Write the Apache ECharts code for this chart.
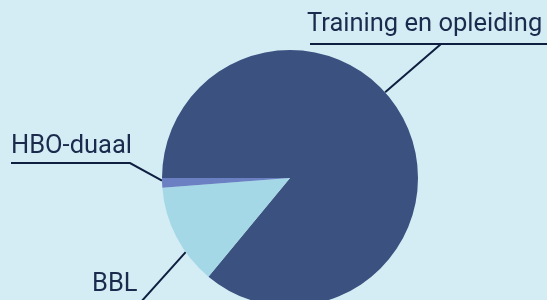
<!DOCTYPE html>
<html>
<head>
<meta charset="utf-8">
<script src="https://cdn.jsdelivr.net/npm/echarts@6/dist/echarts.min.js"></script>
<style>
html, body { margin: 0; padding: 0; background: #d4edf4; }
#chart { width: 547px; height: 300px; }
</style>
</head>
<body>
<div id="chart"></div>
<script>
const categories = ['Training en opleiding', 'BBL', 'HBO-duaal']
const shares = [86, 12.8, 1.2]
const colors = ['#3b5180', '#a5d8e6', '#6a80c2']

// pie placement
const cx = 290
const cy = 178
const r = 128

// where each leader line leaves the pie (deg, counter-clockwise from 3 o'clock)
// and where its text + underline sit
const labelAngles = [42, 215.4, 181.2]
const labelSpots = [
  { x: 307, y: 25, elbow: [441, 44], line: [310, 547] },
  { x: 92, y: 285, elbow: [140, 303], line: [90, 140] },
  { x: 11, y: 147, elbow: [130, 163], line: [11, 130] }
]

const chart = echarts.init(document.getElementById('chart'))
chart.setOption({
  backgroundColor: '#d4edf4',
  animation: false,
  series: [
    {
      type: 'pie',
      center: [cx, cy],
      radius: r,
      startAngle: 180,
      clockwise: true,
      avoidLabelOverlap: false,
      data: categories.map(function (name, i) {
        return { name: name, value: shares[i], itemStyle: { color: colors[i] } }
      }),
      label: {
        show: true,
        formatter: '{b}',
        color: '#1b2b4d',
        fontFamily: 'Roboto',
        fontSize: 25.5
      },
      labelLine: {
        show: true,
        lineStyle: { color: '#0e1f40', width: 2 }
      },
      labelLayout: function (params) {
        const i = params.dataIndex
        const s = labelSpots[i]
        const a = labelAngles[i] * Math.PI / 180
        const p0 = [cx + r * Math.cos(a), cy - r * Math.sin(a)]
        const y = s.elbow[1]
        return {
          x: s.x,
          y: s.y,
          align: 'left',
          verticalAlign: 'middle',
          labelLinePoints: [p0, s.elbow, [s.line[1], y], [s.line[0], y]]
        }
      }
    }
  ]
})
</script>
</body>
</html>
